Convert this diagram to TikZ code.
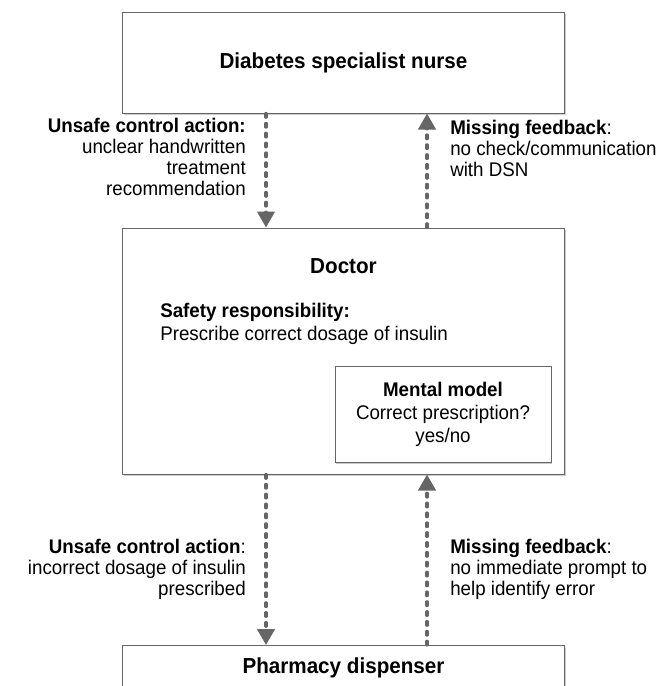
\documentclass[tikz,border=0pt]{standalone}
\usepackage{fontspec}
\setmainfont{Liberation Sans}[FakeStretch=0.95]
\usetikzlibrary{arrows.meta, positioning, shadows}
\tikzset{
  box/.style={rectangle, draw=black!60, line width=0.75pt, fill=white,
              drop shadow={shadow xshift=1pt, shadow yshift=-1.5pt,
                           fill=black, opacity=0.2}},
  ttl/.style={font=\fontsize{16.3}{18}\selectfont\bfseries},
  txt/.style={font=\fontsize{14.8}{15.8}\selectfont, inner sep=0pt},
  widetxt/.style={txt, font=\fontsize{14.8}{17.25}\selectfont},
  ctrl/.style={-{Triangle[width=13pt, length=12pt]}, draw=black!60,
               line width=2.4pt, dash pattern=on 2.8pt off 4.6pt, line cap=round},
}
\begin{document}
\begin{tikzpicture}[x=0.75pt, y=-0.75pt]
  \clip (0,0) rectangle (659,686);
  % boxes
  \node[box, minimum width=332pt, minimum height=75.75pt, ttl] (nurse) at (343.5,62.5) {Diabetes specialist nurse};
  \node[box, minimum width=332pt, minimum height=184.5pt] (doctor) at (343.5,351) {};
  \node[box, minimum width=332pt, minimum height=75pt, anchor=north] (pharm) at (343.5,645) {};
  \node[ttl] (doctorlbl) at (343.5,266) {Doctor};
  \node[widetxt, align=left, anchor=north west] (safety) at (160,303) {\textbf{Safety responsibility:}\\Prescribe correct dosage of insulin};
  \node[box, minimum width=162pt, minimum height=72pt, widetxt, align=center] (mental) at (443,414) {\textbf{Mental model}\\Correct prescription?\\yes/no};
  \node[ttl] (pharmlbl) at (343.5,668) {Pharmacy dispenser};
  % connectors
  \coordinate (ax) at (266,0);
  \coordinate (bx) at (427,0);
  \draw[ctrl] (nurse.south -| ax) -- (doctor.north -| ax);
  \draw[ctrl] (doctor.north -| bx) -- (nurse.south -| bx);
  \draw[ctrl] (doctor.south -| ax) -- (pharm.north -| ax);
  \draw[ctrl] (pharm.north -| bx) -- (doctor.south -| bx);
  % labels
  \node[txt, align=right, anchor=north east] (uca1) at (246,118) {\textbf{Unsafe control action:}\\unclear handwritten\\treatment\\recommendation};
  \node[txt, align=left, anchor=north west] (mf1) at (450,120) {\textbf{Missing feedback}:\\no check/communication\\with DSN};
  \node[txt, align=right, anchor=north east] (uca2) at (246,539) {\textbf{Unsafe control action}:\\incorrect dosage of insulin\\prescribed};
  \node[txt, align=left, anchor=north west] (mf2) at (450,539) {\textbf{Missing feedback}:\\no immediate prompt to\\help identify error};
\end{tikzpicture}
\end{document}
